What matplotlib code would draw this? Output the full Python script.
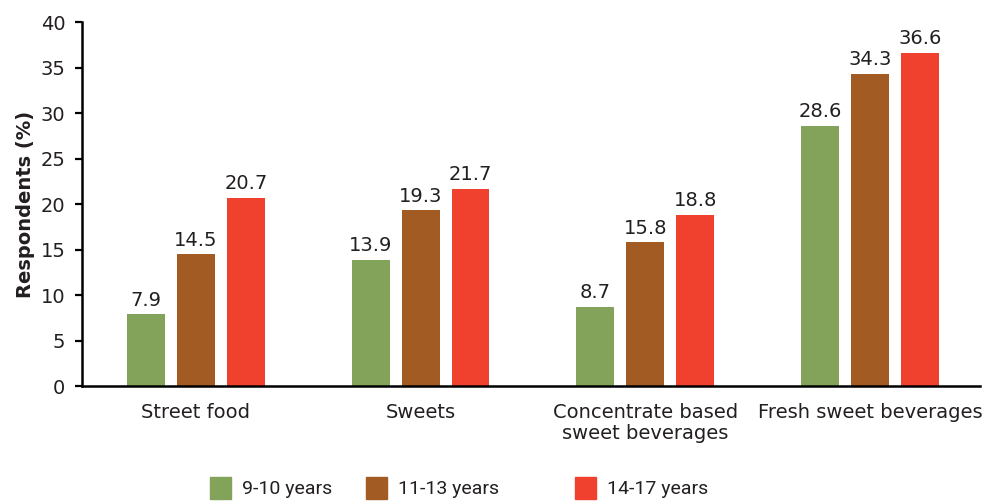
import matplotlib
matplotlib.use("Agg")
import matplotlib.pyplot as plt
import numpy as np
from matplotlib.patches import Patch

categories = ["Street food", "Sweets", "Concentrate based\nsweet beverages", "Fresh sweet beverages"]
series_names = ["9-10 years", "11-13 years", "14-17 years"]
age_9_10 = [7.9, 13.9, 8.7, 28.6]
age_11_13 = [14.5, 19.3, 15.8, 34.3]
age_14_17 = [20.7, 21.7, 18.8, 36.6]
colors = ["#84a35a", "#a35b24", "#ef412e"]
yticks = [0, 5, 10, 15, 20, 25, 30, 35, 40]

plt.rcParams['font.family'] = ['DejaVu Sans']
txt = "#231f20"
fs = 14

fig = plt.figure(figsize=(9.94, 5.01), dpi=100)
ax = fig.add_axes([0.0825, 0.2295, 0.9035, 0.7265])

x = np.arange(len(categories))
w = 0.169
step = 0.222
series = [age_9_10, age_11_13, age_14_17]
for i, (vals, c) in enumerate(zip(series, colors)):
    pos = x + (i - 1) * step
    ax.bar(pos, vals, width=w, color=c)
    for p, v in zip(pos, vals):
        ax.text(p, v + 0.5, f"{v:.1f}", ha="center", va="bottom", fontsize=fs, color=txt)

ax.set_xlim(-0.507, 3.49)
ax.set_ylim(0, 40)
ax.set_yticks(yticks)
ax.set_xticks(x)
ax.set_xticklabels(categories, fontsize=fs, color=txt, linespacing=1.15)
ax.tick_params(axis="x", length=0, pad=12)
ax.tick_params(axis="y", length=5, width=1.6, labelsize=fs, labelcolor=txt, pad=7)
for s in ["top", "right"]:
    ax.spines[s].set_visible(False)
for s in ["left", "bottom"]:
    ax.spines[s].set_linewidth(1.8)
    ax.spines[s].set_color("black")
ax.set_ylabel("Respondents (%)", fontsize=14, fontweight="bold", color=txt, labelpad=4)

legend_x = [0.211, 0.368, 0.578]
for name, c, lx in zip(series_names, colors, legend_x):
    leg = fig.legend(handles=[Patch(color=c, label=name)], loc="center left",
                     bbox_to_anchor=(lx, 0.026), frameon=False,
                     prop={"family": ["Roboto", "DejaVu Sans"], "size": fs},
                     handlelength=1.08, handleheight=1.29, handletextpad=0.6,
                     borderpad=0, borderaxespad=0)
    for t in leg.get_texts():
        t.set_color(txt)

fig.savefig("out.png", dpi=100)
